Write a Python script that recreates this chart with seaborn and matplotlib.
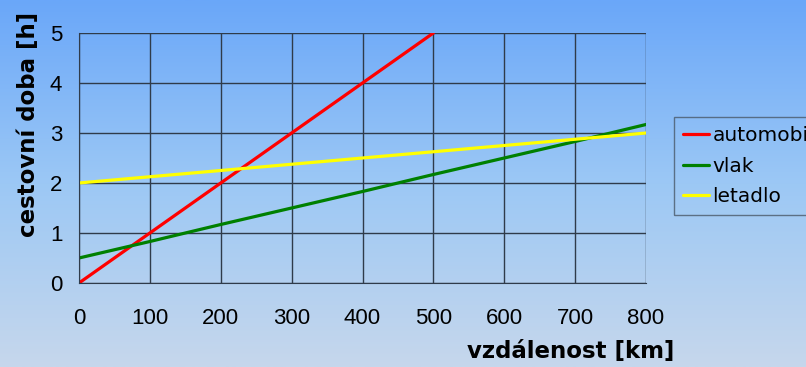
import numpy as np
import pandas as pd
import matplotlib
matplotlib.use("Agg")
import matplotlib.pyplot as plt
import seaborn as sns
from matplotlib.colors import LinearSegmentedColormap

# --- data ---
km_auto = [0, 100, 200, 300, 400, 500]
h_auto = [0, 1, 2, 3, 4, 5]
km_vlak = [0, 100, 200, 300, 400, 500, 600, 700, 800]
h_vlak = [0.5, 0.83, 1.17, 1.5, 1.83, 2.17, 2.5, 2.83, 3.17]
km_letadlo = [0, 100, 200, 300, 400, 500, 600, 700, 800]
h_letadlo = [2.0, 2.125, 2.25, 2.375, 2.5, 2.625, 2.75, 2.875, 3.0]
series_names = ["automobil", "vlak", "letadlo"]
series_colors = ["#ff0000", "#008000", "#ffff00"]

df = pd.concat([
    pd.DataFrame({"km": km_auto, "h": h_auto, "typ": series_names[0]}),
    pd.DataFrame({"km": km_vlak, "h": h_vlak, "typ": series_names[1]}),
    pd.DataFrame({"km": km_letadlo, "h": h_letadlo, "typ": series_names[2]}),
])

sns.set_style("white")
plt.rcParams["font.family"] = ["Liberation Sans", "DejaVu Sans"]
plt.rcParams["text.color"] = "black"
plt.rcParams["xtick.color"] = "black"
plt.rcParams["ytick.color"] = "black"
plt.rcParams["axes.labelcolor"] = "black"

fig = plt.figure(figsize=(8.06, 3.67), dpi=100)

# gradient background
bg = fig.add_axes([0, 0, 1, 1], zorder=-10)
cmap = LinearSegmentedColormap.from_list("bg", ["#6aa7f9", "#9cc8f5", "#c6d7ec"])
bg.imshow(np.linspace(0, 1, 256).reshape(-1, 1), aspect="auto", cmap=cmap,
          extent=[0, 1, 0, 1])
bg.axis("off")

ax = fig.add_axes([79 / 806, 1 - 283 / 367, (646 - 79) / 806, (283 - 33) / 367])
ax.set_facecolor("none")

sns.lineplot(data=df, x="km", y="h", hue="typ", palette=series_colors,
             linewidth=2.3, ax=ax, legend=False)

grid_c = "#2f3b4a"
ax.set_xlim(0, 800)
ax.set_ylim(0, 5)
ax.set_xticks(range(0, 801, 100))
ax.set_yticks(range(0, 6))
ax.grid(True, color=grid_c, linewidth=1)
for s in ax.spines.values():
    s.set_visible(False)
for side in ["left", "bottom"]:
    ax.spines[side].set_visible(True)
    ax.spines[side].set_color(grid_c)
ax.tick_params(axis="both", direction="out", length=6, width=1, color=grid_c,
               labelsize=16, labelcolor="black")
ax.tick_params(axis="y", pad=6)
ax.tick_params(axis="x", pad=12)

lab_font = dict(family="DejaVu Sans", size=16.5, weight="bold")
ax.set_xlabel("vzdálenost [km]", fontdict=lab_font)
ax.xaxis.set_label_coords(0.868, -0.228)
ax.set_ylabel("cestovní doba [h]", fontdict=lab_font)
ax.yaxis.set_label_coords(-0.068, 0.634)

# legend sits partly outside the figure, like in the original slide
handles = [plt.Line2D([0], [0], color=c, linewidth=2.3) for c in series_colors]
leg = fig.legend(handles, series_names, loc="upper left",
                 bbox_to_anchor=(674 / 806, 1 - 117 / 367),
                 prop=dict(family="DejaVu Sans", size=14.5),
                 frameon=True, fancybox=False, handlelength=1.3,
                 handletextpad=0.15, borderpad=0.45, labelspacing=0.58,
                 borderaxespad=0)
leg.get_frame().set_facecolor("none")
leg.get_frame().set_edgecolor("#4a5a6a")
leg.get_frame().set_linewidth(1)

fig.savefig("out.png", dpi=100)
